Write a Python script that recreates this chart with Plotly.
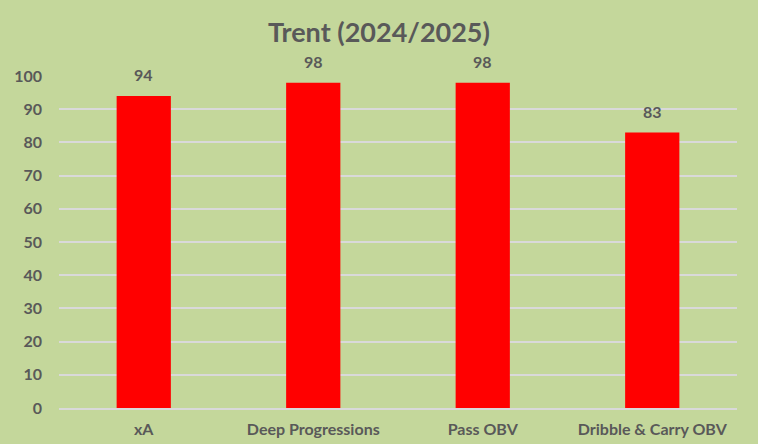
import plotly.graph_objects as go

categories = ["xA", "Deep Progressions", "Pass OBV", "Dribble & Carry OBV"]
values = [94, 98, 98, 83]
y_ticks = [0, 10, 20, 30, 40, 50, 60, 70, 80, 90, 100]

BG = "#C4D79B"
TXT = "#595959"
FONT = "Lato"

fig = go.Figure()
fig.add_trace(go.Bar(
    x=categories, y=values, marker_color="#FF0000", marker_line_width=0,
    width=0.32, hoverinfo="skip",
))
for c, v in zip(categories, values):
    fig.add_annotation(x=c, y=v, text=str(v), showarrow=False,
                       yshift=21, font=dict(family=FONT, size=16, color=TXT, weight=700))

fig.update_layout(
    width=758, height=444,
    paper_bgcolor=BG, plot_bgcolor=BG,
    margin=dict(l=59, r=21, t=76, b=36),
    showlegend=False,
    title=dict(text="Trent (2024/2025)", x=0.5, xanchor="center",
               y=1 - 33 / 444, yanchor="middle",
               font=dict(family=FONT, size=27, color=TXT, weight=700)),
    font=dict(family=FONT, color=TXT),
)
fig.update_yaxes(range=[0, 100], tickvals=y_ticks, showgrid=True,
                 gridcolor="#D9D9D9", gridwidth=1.5, zeroline=False,
                 showline=False, ticks="", ticklabelstandoff=16, automargin=False,
                 tickfont=dict(family=FONT, size=16, color=TXT, weight=700))
fig.update_xaxes(showline=True, linecolor="#D9D9D9", linewidth=1.5,
                 ticks="", ticklabelstandoff=6, showgrid=False, automargin=False,
                 tickfont=dict(family=FONT, size=16, color=TXT, weight=700))

fig.write_html("out.html", config={"displayModeBar": False},
               post_script="document.body.style.margin='0';")
